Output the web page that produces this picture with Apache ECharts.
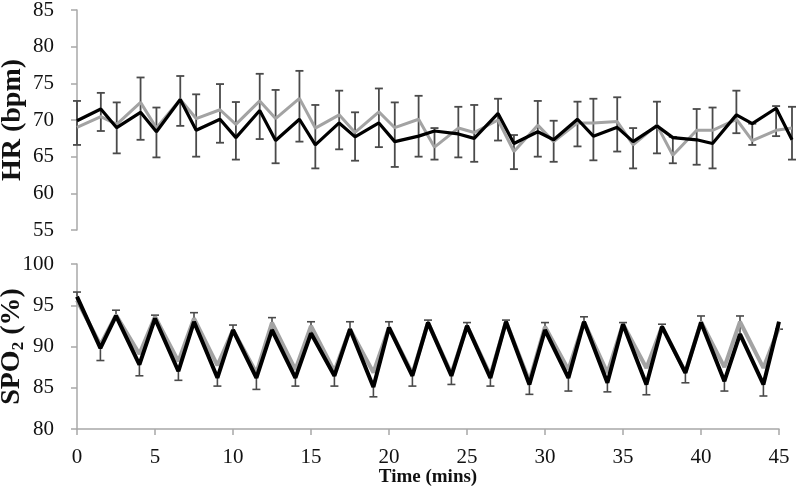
<!DOCTYPE html>
<html>
<head>
<meta charset="utf-8">
<script src="https://cdn.jsdelivr.net/npm/echarts@6/dist/echarts.min.js"></script>
<style>
html,body{margin:0;padding:0;background:#fff;}
#chart{width:800px;height:499px;}
</style>
</head>
<body>
<div id="chart"></div>
<script>
// Time points (mins)
var times = [0,1.5,2.5,4,5,6.5,7.5,9,10,11.5,12.5,14,15,16.5,17.5,19,20,21.5,22.5,24,25,26.5,27.5,29,30,31.5,32.5,34,35,36.5,37.5,39,40,41.5,42.5,44,45];

// Heart rate (bpm)
var hrBlack = [69.9,71.5,68.95,71.05,68.4,72.8,68.6,70.1,67.6,71.3,67.2,70.1,66.6,69.6,67.7,69.6,67.05,67.8,68.5,68.1,67.5,70.9,66.8,68.4,67.3,70.1,67.8,69.0,67.05,69.2,67.6,67.3,66.8,70.7,69.5,71.6,67.3];
var hrGray  = [69.0,70.45,69.4,72.4,68.9,72.8,70.2,71.4,69.4,72.6,70.2,72.95,68.9,70.7,68.3,71.1,68.95,70.1,66.3,68.9,68.3,70.0,65.7,69.3,67.05,69.6,69.6,69.8,66.6,69.3,65.2,68.6,68.6,70.1,67.2,68.6,68.9];
var hrErrHigh = [72.6,73.7,72.4,75.8,71.7,76.0,73.5,74.9,72.45,76.3,74.1,76.7,72.05,74.0,71.05,74.3,72.4,73.3,68.9,71.8,72.05,72.9,67.95,72.6,69.9,72.5,72.9,73.1,68.9,72.5,67.7,71.5,71.7,74.0,69.5,71.9,71.8];
var hrErrLow  = [66.6,68.5,65.45,67.3,64.9,69.2,65.0,66.9,64.6,67.4,64.1,67.05,63.4,66.0,64.45,66.3,63.6,65.0,64.6,64.9,64.3,67.2,63.3,65.0,64.3,66.4,64.5,65.7,63.4,65.45,64.1,63.9,63.4,68.2,66.6,67.8,64.6];

// SpO2 (%)
var spoBlack = [96.05,89.8,93.7,87.8,93.4,87.0,93.0,86.2,92.0,86.2,92.0,86.2,91.6,86.45,92.1,85.1,92.3,86.45,92.9,86.45,92.5,86.2,93.0,85.4,92.0,86.2,93.0,85.6,92.7,85.4,92.4,86.8,92.9,85.8,91.5,85.4,93.0];
var spoGray  = [95.6,90.2,93.8,89.1,93.6,88.2,93.4,87.7,92.0,86.8,92.9,87.2,92.5,87.0,92.1,86.85,92.3,86.7,92.9,86.7,92.5,86.5,93.0,85.8,92.4,87.2,93.0,86.8,92.7,87.4,92.4,86.9,93.0,87.5,93.0,87.4,92.3];
var spoErrEnd = [96.6,88.3,94.4,86.45,93.8,85.9,94.1,85.2,92.6,84.8,93.5,85.2,93.0,85.2,93.0,83.9,93.0,85.2,93.2,85.4,92.9,85.2,93.2,84.2,92.9,84.6,93.6,84.5,92.9,84.15,92.7,85.6,93.7,84.6,93.7,84.0,92.1];

// Axis ticks
var hrTicks = {min:55, max:85, step:5};
var spoTicks = {min:80, max:100, step:5};
var timeTicks = {min:0, max:45, step:5};

function pairs(xs, ys){ return xs.map(function(x,i){ return [x, ys[i]]; }); }
function errData(xs, lo, hi){ return xs.map(function(x,i){ return [x, lo[i], hi[i]]; }); }

var FONT = 'Liberation Serif';
var AXIS_COLOR = '#a8a8a8';
var ERR_COLOR = '#4a4a4a';

function errRender(capHalf, width){
  return function(params, api){
    var x = api.value(0), lo = api.value(1), hi = api.value(2);
    var p1 = api.coord([x, lo]), p2 = api.coord([x, hi]);
    var st = {stroke: ERR_COLOR, lineWidth: width};
    return {type:'group', children:[
      {type:'line', shape:{x1:p1[0],y1:p1[1],x2:p2[0],y2:p2[1]}, style:st},
      {type:'line', shape:{x1:p1[0]-capHalf,y1:p1[1],x2:p1[0]+capHalf,y2:p1[1]}, style:st},
      {type:'line', shape:{x1:p2[0]-capHalf,y1:p2[1],x2:p2[0]+capHalf,y2:p2[1]}, style:st}
    ]};
  };
}
function spoErrRender(params, api){
  var x = api.value(0), base = api.value(1), end = api.value(2);
  var p1 = api.coord([x, base]), p2 = api.coord([x, end]);
  var st = {stroke: ERR_COLOR, lineWidth: 1.6};
  return {type:'group', children:[
    {type:'line', shape:{x1:p1[0],y1:p1[1],x2:p2[0],y2:p2[1]}, style:st},
    {type:'line', shape:{x1:p2[0]-4,y1:p2[1],x2:p2[0]+4,y2:p2[1]}, style:st}
  ]};
}

var labelStyle = {fontFamily: FONT, fontSize: 21, color: '#111'};
var yNameStyle = {fontFamily: FONT, fontSize: 28, fontWeight: 'bold', color: '#111'};

var chart = echarts.init(document.getElementById('chart'), null, {renderer:'canvas'});
chart.setOption({
  animation: false,
  backgroundColor: '#fff',
  grid: [
    {left: 77, top: 10, width: 715, height: 220, containLabel:false, outerBoundsMode:'none'},
    {left: 77, top: 264, width: 702, height: 165, containLabel:false, outerBoundsMode:'none'}
  ],
  xAxis: [
    {gridIndex:0, type:'value', min:timeTicks.min, max:timeTicks.max, interval:timeTicks.step, show:false},
    {gridIndex:1, type:'value', min:timeTicks.min, max:timeTicks.max, interval:timeTicks.step,
     axisLine:{show:true, lineStyle:{color:AXIS_COLOR, width:1.5}},
     axisTick:{show:true, length:6, lineStyle:{color:AXIS_COLOR, width:1.5}},
     axisLabel:Object.assign({margin:18}, labelStyle),
     splitLine:{show:false},
     name:'Time (mins)', nameLocation:'middle', nameGap:39, nameMoveOverlap:false,
     nameTextStyle:{fontFamily:FONT, fontSize:19, fontWeight:'bold', color:'#111'}}
  ],
  yAxis: [
    {gridIndex:0, type:'value', min:hrTicks.min, max:hrTicks.max, interval:hrTicks.step,
     axisLine:{show:true, lineStyle:{color:AXIS_COLOR, width:1.5}},
     axisTick:{show:true, length:6, lineStyle:{color:AXIS_COLOR, width:1.5}},
     axisLabel:Object.assign({margin:23}, labelStyle),
     splitLine:{show:false},
     name:'HR (bpm)', nameLocation:'middle', nameGap:50, nameRotate:90, nameMoveOverlap:false, nameTextStyle:yNameStyle},
    {gridIndex:1, type:'value', min:spoTicks.min, max:spoTicks.max, interval:spoTicks.step,
     axisLine:{show:true, lineStyle:{color:AXIS_COLOR, width:1.5}},
     axisTick:{show:true, length:6, lineStyle:{color:AXIS_COLOR, width:1.5}},
     axisLabel:Object.assign({margin:23}, labelStyle),
     splitLine:{show:false},
     name:'{a|SPO}{s|2}{a| (%)}', nameLocation:'middle', nameGap:50, nameRotate:90, nameMoveOverlap:false,
     nameTextStyle:{fontFamily:FONT, fontSize:28, fontWeight:'bold', color:'#111',
       rich:{a:{fontFamily:FONT, fontSize:28, fontWeight:'bold', color:'#111'},
             s:{fontFamily:FONT, fontSize:17, fontWeight:'bold', color:'#111', verticalAlign:'bottom', padding:[13,0,0,0]}}}}
  ],
  series: [
    {type:'custom', xAxisIndex:0, yAxisIndex:0, renderItem:errRender(4,1.8), data:errData(times, hrErrLow, hrErrHigh), z:1, silent:true},
    {type:'line', xAxisIndex:0, yAxisIndex:0, data:pairs(times, hrGray), showSymbol:false, symbol:'none',
     lineStyle:{color:'#a3a3a3', width:3}, z:2},
    {type:'line', xAxisIndex:0, yAxisIndex:0, data:pairs(times, hrBlack), showSymbol:false, symbol:'none',
     lineStyle:{color:'#000', width:3.2}, z:3},
    {type:'custom', xAxisIndex:1, yAxisIndex:1, renderItem:spoErrRender, data:errData(times, spoBlack, spoErrEnd), z:1, silent:true},
    {type:'line', xAxisIndex:1, yAxisIndex:1, data:pairs(times, spoGray), showSymbol:false, symbol:'none',
     lineStyle:{color:'#a3a3a3', width:4}, z:2},
    {type:'line', xAxisIndex:1, yAxisIndex:1, data:pairs(times, spoBlack), showSymbol:false, symbol:'none',
     lineStyle:{color:'#000', width:4}, z:3}
  ]
});
</script>
</body>
</html>
